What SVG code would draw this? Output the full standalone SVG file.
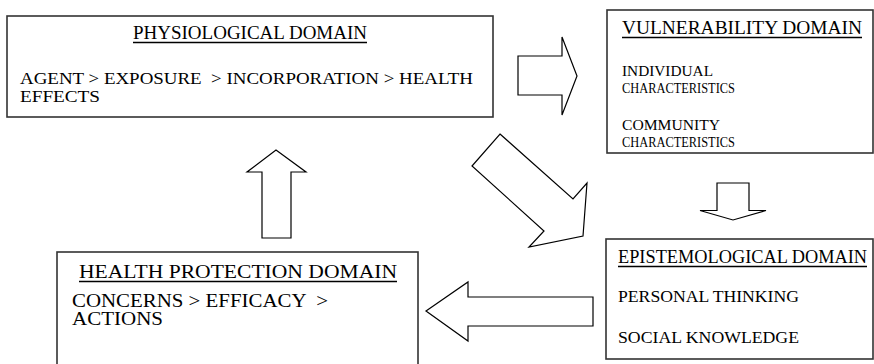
<svg xmlns="http://www.w3.org/2000/svg" width="874" height="364" viewBox="0 0 874 364">
  <style>
    .box { fill: #ffffff; stroke: #333333; stroke-width: 1.6; }
    .arrow { fill: #ffffff; stroke: #000000; stroke-width: 1.2; stroke-linejoin: miter; }
    text { font-family: "Liberation Serif", "Times New Roman", serif; fill: #000000; }
    .title { font-size: 18.5px; }
    .body { font-size: 17px; }
    .small { font-size: 15.5px; }
    .mid { font-size: 16.5px; }
    .large { font-size: 19.5px; }
    .lines { font-size: 18px; }
    .uline { stroke: #000000; stroke-width: 1.6; }
  </style>

  <!-- block arrows linking the domains -->
  <g id="connectors">
    <polygon class="arrow" points="518,56 562,56 562,37 577,76 562,115 562,95 518,95"/>
    <polygon class="arrow" points="500,134 573,199 587,183 583,236 529,247 544,231 472,166"/>
    <polygon class="arrow" points="717,183 749,183 749,210.5 766,210.5 733,220 700,210.5 717,210.5"/>
    <polygon class="arrow" points="593,297 468,297 468,282 426,311 468,341 468,326 593,326"/>
    <polygon class="arrow" points="262,238 291,238 291,172 306,172 276,150 247,172 262,172"/>
  </g>

  <g id="physiological">
    <rect class="box" x="7" y="16" width="486" height="101"/>
    <text class="title" x="133" y="39" textLength="234" lengthAdjust="spacingAndGlyphs">PHYSIOLOGICAL DOMAIN</text>
    <line class="uline" x1="133" y1="42.5" x2="367" y2="42.5"/>
    <text class="body" x="20" y="83.5" textLength="453" lengthAdjust="spacingAndGlyphs" xml:space="preserve">AGENT &gt; EXPOSURE  &gt; INCORPORATION &gt; HEALTH</text>
    <text class="body" x="20" y="101.5" textLength="80" lengthAdjust="spacingAndGlyphs">EFFECTS</text>
  </g>

  <g id="vulnerability">
    <rect class="box" x="607" y="10" width="266" height="143"/>
    <text class="title" x="622" y="33.5" textLength="240" lengthAdjust="spacingAndGlyphs">VULNERABILITY DOMAIN</text>
    <line class="uline" x1="622" y1="37.5" x2="862" y2="37.5"/>
    <text class="small" x="622" y="76" textLength="91" lengthAdjust="spacingAndGlyphs">INDIVIDUAL</text>
    <text class="small" x="622" y="93" textLength="113" lengthAdjust="spacingAndGlyphs">CHARACTERISTICS</text>
    <text class="small" x="622" y="130" textLength="98" lengthAdjust="spacingAndGlyphs">COMMUNITY</text>
    <text class="small" x="622" y="147" textLength="113" lengthAdjust="spacingAndGlyphs">CHARACTERISTICS</text>
  </g>

  <g id="epistemological">
    <rect class="box" x="606" y="239" width="267" height="120"/>
    <text class="title" x="618" y="263" textLength="249" lengthAdjust="spacingAndGlyphs">EPISTEMOLOGICAL DOMAIN</text>
    <line class="uline" x1="618" y1="266.5" x2="867" y2="266.5"/>
    <text class="mid" x="618" y="301.5" textLength="181" lengthAdjust="spacingAndGlyphs">PERSONAL THINKING</text>
    <text class="mid" x="618" y="343" textLength="181" lengthAdjust="spacingAndGlyphs">SOCIAL KNOWLEDGE</text>
  </g>

  <g id="health-protection">
    <rect class="box" x="57" y="252" width="361" height="120"/>
    <text class="large" x="79" y="278" textLength="318" lengthAdjust="spacingAndGlyphs">HEALTH PROTECTION DOMAIN</text>
    <line class="uline" x1="79" y1="281.5" x2="397" y2="281.5"/>
    <text class="lines" x="72" y="306.5" textLength="256" lengthAdjust="spacingAndGlyphs" xml:space="preserve">CONCERNS &gt; EFFICACY  &gt;</text>
    <text class="lines" x="72" y="325" textLength="91" lengthAdjust="spacingAndGlyphs">ACTIONS</text>
  </g>
</svg>
